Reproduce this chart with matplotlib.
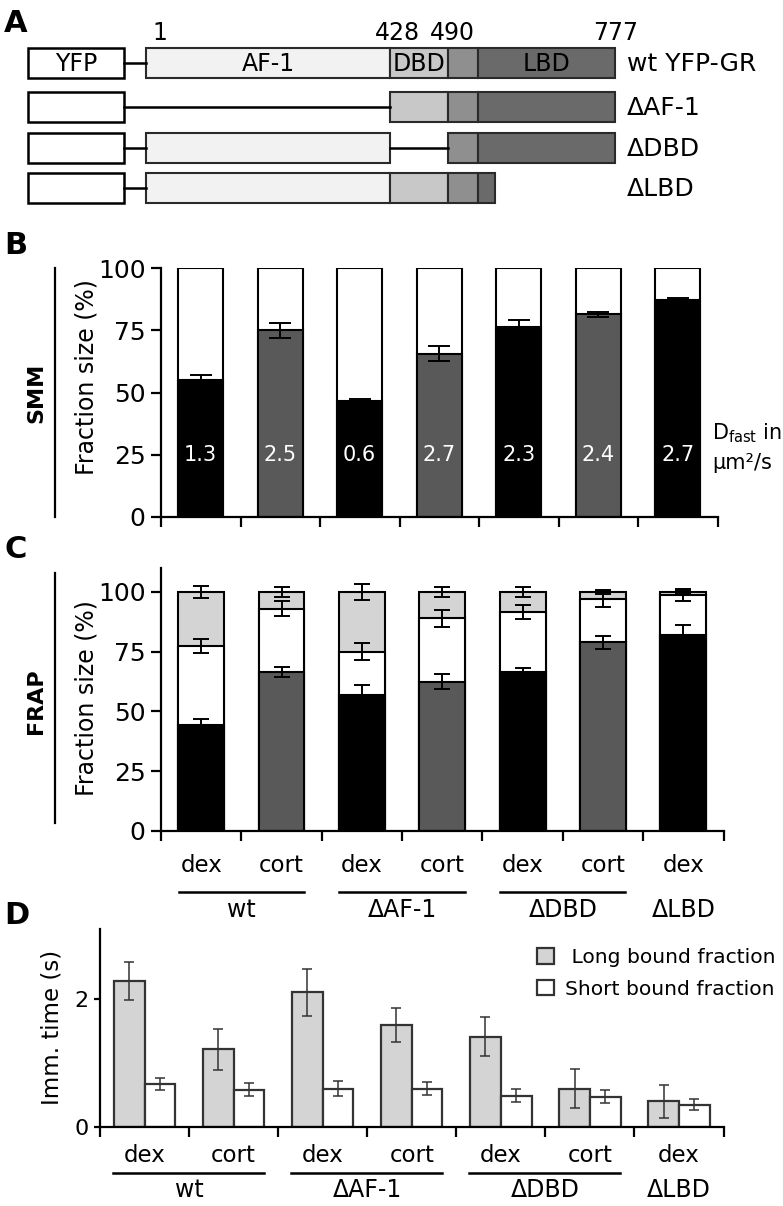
import numpy as np
import matplotlib
matplotlib.use('Agg')
import matplotlib.pyplot as plt
from matplotlib.patches import Rectangle
from matplotlib.lines import Line2D

plt.rcParams['font.family'] = ['DejaVu Sans']

# ---- data ----
treatments = ['dex', 'cort', 'dex', 'cort', 'dex', 'cort', 'dex']
constructs = ['wt', 'ΔAF-1', 'ΔDBD', 'ΔLBD']
construct_bars = [(0, 1), (2, 3), (4, 5), (6, 6)]

# panel B: SMM bound fraction (%) and D_fast (um2/s)
smm_bound = [55, 75, 46.5, 65.5, 76.5, 81.5, 87]
smm_err = [2, 3, 1, 3, 2.5, 1, 1]
dfast = ['1.3', '2.5', '0.6', '2.7', '2.3', '2.4', '2.7']

# panel C: FRAP fractions (cumulative %)
frap_imm = [44.5, 66.5, 57, 62.5, 66.5, 79, 82]
frap_imm_err = [2.5, 2, 4, 3, 1.5, 2.7, 4]
frap_mid = [77.5, 93, 75, 89, 91.7, 97, 98.7]
frap_mid_err = [3, 3, 3.5, 3.5, 3, 3.2, 2.5]
frap_top_err = [2.5, 2, 3.5, 2, 2, 1, 1]

# panel D: immobilisation times (s)
long_t = [2.28, 1.21, 2.10, 1.59, 1.41, 0.60, 0.40]
long_err = [0.30, 0.32, 0.37, 0.26, 0.30, 0.31, 0.26]
short_t = [0.67, 0.58, 0.60, 0.60, 0.49, 0.47, 0.35]
short_err = [0.09, 0.10, 0.12, 0.10, 0.10, 0.10, 0.085]

# panel A: construct schematics
row_names = ['wt YFP-GR', 'ΔAF-1', 'ΔDBD', 'ΔLBD']
aa_labels = ['1', '428', '490', '777']
domains = {'AF-1': (146, 390, '#f2f2f2'), 'DBD': (390, 448, '#c8c8c8'),
           'hinge': (448, 478, '#8f8f8f'), 'LBD': (478, 615, '#6a6a6a'),
           'LBDs': (478, 495, '#6a6a6a')}
row_domains = [['AF-1', 'DBD', 'hinge', 'LBD'],
               ['DBD', 'hinge', 'LBD'],
               ['AF-1', 'hinge', 'LBD'],
               ['AF-1', 'DBD', 'hinge', 'LBDs']]

W, H = 783, 1206
fig = plt.figure(figsize=(W / 100, H / 100), dpi=100)

ov = fig.add_axes([0, 0, 1, 1])
ov.set_xlim(0, W)
ov.set_ylim(H, 0)
ov.axis('off')


def fax(x0, y0, x1, y1):
    return fig.add_axes([x0 / W, 1 - y1 / H, (x1 - x0) / W, (y1 - y0) / H])


x = np.arange(len(treatments))
dark = ['black' if t == 'dex' else '#595959' for t in treatments]

# ---- panel A ----
row_y = [63, 107, 148, 188]
hh = 30
for i, (name, doms) in enumerate(zip(row_names, row_domains)):
    yc = row_y[i]
    ov.add_patch(Rectangle((27.5, yc - hh / 2), 96.5, hh, fc='white', ec='black', lw=1.8))
    ov.plot([124, domains[doms[0]][0]], [yc, yc], color='black', lw=1.8)
    prev_end = None
    for d in doms:
        a, b, c = domains[d]
        if prev_end is not None and a > prev_end + 1:
            ov.plot([prev_end, a], [yc, yc], color='black', lw=1.8)
        ov.add_patch(Rectangle((a, yc - hh / 2), b - a, hh, fc=c, ec='#2a2a2a', lw=1.5))
        prev_end = b
    ov.text(627, yc + 1, name, fontsize=18, va='center', ha='left')
for lab, d in zip(['AF-1', 'DBD', 'LBD'], ['AF-1', 'DBD', 'LBD']):
    a, b, _ = domains[d]
    ov.text((a + b) / 2, row_y[0] + 1, lab, fontsize=17, ha='center', va='center')
ov.text(75.75, row_y[0] + 1, 'YFP', fontsize=17, ha='center', va='center')
for lab, xp in zip(aa_labels, [160, 397, 452, 616]):
    ov.text(xp, 33, lab, fontsize=17, ha='center', va='center')

for lab, yp in zip('ABCD', [23, 246, 549, 915]):
    ov.text(4, yp, lab, fontsize=22, fontweight='bold', va='center', ha='left')


def style_axis(ax, n, ylabsize=18, ylen=7):
    for s in ['top', 'right']:
        ax.spines[s].set_visible(False)
    for s in ['left', 'bottom']:
        ax.spines[s].set_linewidth(1.6)
    ax.set_xlim(-0.5, n - 0.5)
    ax.set_xticks(np.arange(n + 1) - 0.5, minor=True)
    ax.set_xticks([])
    ax.tick_params(axis='x', which='minor', length=7, width=1.6)
    ax.tick_params(axis='y', length=ylen, width=1.6, labelsize=ylabsize, pad=4)


bw = 0.57
# ---- panel B ----
axB = fax(161, 268, 717.5, 517)
axB.bar(x, [100] * 7, bw, color='white', edgecolor='black', lw=1.5)
axB.bar(x, smm_bound, bw, color=dark, edgecolor='black', lw=1.5)
axB.errorbar(x, smm_bound, yerr=smm_err, fmt='none', ecolor='black', elinewidth=1.4,
             capsize=8, capthick=1.4)
for xi, t in zip(x, dfast):
    axB.text(xi, 25, t, color='white', fontsize=15, ha='center', va='center')
axB.set_ylim(0, 100)
axB.set_yticks([0, 25, 50, 75, 100])
style_axis(axB, 7)
axB.text(-0.133, 0.562, 'Fraction size (%)', transform=axB.transAxes, fontsize=17,
         rotation=90, ha='center', va='center')
axB.text(0.99, 0.337, 'D$_{\\mathrm{fast}}$ in', transform=axB.transAxes, fontsize=15,
         ha='left', va='center')
axB.text(0.99, 0.217, 'µm²/s', transform=axB.transAxes, fontsize=15, ha='left', va='center')
ov.plot([55, 55], [268, 517], color='black', lw=1.6)
ov.text(36, 393, 'SMM', rotation=90, fontsize=16, fontweight='bold',
        ha='center', va='center')

# ---- panel C ----
axC = fax(161, 568, 723.5, 831)
axC.bar(x, [100] * 7, bw, color='#d4d4d4', edgecolor='black', lw=1.5)
axC.bar(x, frap_mid, bw, color='white', edgecolor='black', lw=1.5)
axC.bar(x, frap_imm, bw, color=dark, edgecolor='black', lw=1.5)
for yv, ev in [([100] * 7, frap_top_err), (frap_mid, frap_mid_err), (frap_imm, frap_imm_err)]:
    axC.errorbar(x, yv, yerr=ev, fmt='none', ecolor='black', elinewidth=1.4,
                 capsize=6, capthick=1.4)
axC.set_ylim(0, 110)
axC.set_yticks([0, 25, 50, 75, 100])
style_axis(axC, 7)
axC.text(-0.1316, 0.506, 'Fraction size (%)', transform=axC.transAxes, fontsize=17,
         rotation=90, ha='center', va='center')
ov.plot([55, 55], [573, 823], color='black', lw=1.6)
ov.text(36, 701, 'FRAP', rotation=90, fontsize=16, fontweight='bold',
        ha='center', va='center')
trC = axC.get_xaxis_transform()
for xi, t in zip(x, treatments):
    axC.text(xi, -0.133, t, transform=trC, fontsize=16.5, ha='center', va='center',
             clip_on=False)
for name, (a, b) in zip(constructs, construct_bars):
    if b > a:
        axC.add_line(Line2D([a - 0.28, b + 0.28], [-0.232, -0.232], transform=trC,
                            color='black', lw=1.8, clip_on=False))
    axC.text((a + b) / 2, -0.30, name, transform=trC, fontsize=17, ha='center',
             va='center', clip_on=False)

# ---- panel D ----
axD = fax(100, 929, 723.5, 1127)
dw = 0.345
axD.bar(x - dw / 2, long_t, dw, color='#d4d4d4', edgecolor='#333333', lw=1.6,
        label=' Long bound fraction')
axD.bar(x + dw / 2, short_t, dw, color='white', edgecolor='#333333', lw=1.6,
        label='Short bound fraction')
axD.errorbar(x - dw / 2, long_t, yerr=long_err, fmt='none', ecolor='#333333',
             elinewidth=1.1, capsize=3.3, capthick=1.1)
axD.errorbar(x + dw / 2, short_t, yerr=short_err, fmt='none', ecolor='#333333',
             elinewidth=1.1, capsize=3.3, capthick=1.1)
axD.set_ylim(0, 3.09)
axD.set_yticks([0, 2])
style_axis(axD, 7, ylabsize=16, ylen=4)
axD.text(-0.077, 0.505, 'Imm. time (s)', transform=axD.transAxes, fontsize=16.5,
         rotation=90, ha='center', va='center')
trD = axD.get_xaxis_transform()
for xi, t in zip(x, treatments):
    axD.text(xi, -0.145, t, transform=trD, fontsize=16.5, ha='center', va='center',
             clip_on=False)
for name, (a, b) in zip(constructs, construct_bars):
    if b > a:
        axD.add_line(Line2D([a - 0.354, b + 0.337], [-0.23, -0.23], transform=trD,
                            color='black', lw=1.8, clip_on=False))
    axD.text((a + b) / 2, -0.32, name, transform=trD, fontsize=17, ha='center',
             va='center', clip_on=False)
axD.legend(loc='upper left', bbox_to_anchor=(537 / W, 1 - 948 / H),
           bbox_transform=fig.transFigure, frameon=False, fontsize=14.6,
           handlelength=0.85, handleheight=0.8, handletextpad=0.55, labelspacing=0.62,
           borderaxespad=0, borderpad=0)

fig.savefig('out.png', dpi=100)
